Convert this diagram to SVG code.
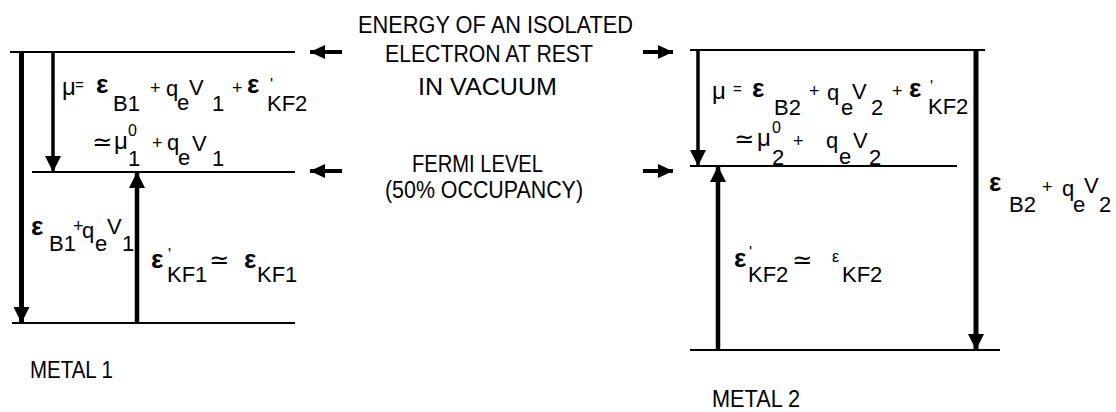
<svg xmlns="http://www.w3.org/2000/svg" width="1116" height="412" viewBox="0 0 1116 412">
<style>
.t{font-family:"Liberation Sans","DejaVu Sans",sans-serif;font-size:22px;fill:#000}
.lab{font-family:"Liberation Sans","DejaVu Sans",sans-serif;font-size:23px;fill:#000}
.e{font-weight:bold;font-size:26px}
.es{font-size:16px}
.m{font-size:24px}
.p{font-size:18px}
.sp{font-size:16px}
.eq{font-size:15px}
.pr{font-size:16px}
.lvl{stroke:#000;stroke-width:2;fill:none}
.ar{stroke:#000;fill:none}
</style>
<defs>
<marker id="ah" markerUnits="userSpaceOnUse" markerWidth="16" markerHeight="16" refX="16" refY="8" orient="auto"><path d="M0,0 L16,8 L0,16 z" fill="#000"/></marker>
<marker id="ahs" markerUnits="userSpaceOnUse" markerWidth="15" markerHeight="14" refX="15" refY="7" orient="auto"><path d="M0,0 L15,7 L0,14 z" fill="#000"/></marker>
</defs>
<rect width="1116" height="412" fill="#fff"/>

<g id="metal1-vacuum-level"><line class="lvl" x1="10" y1="52" x2="295" y2="52"/></g>
<g id="metal1-fermi-level"><line class="lvl" x1="32" y1="172" x2="295" y2="172"/></g>
<g id="metal1-bottom-level"><line class="lvl" x1="12" y1="323" x2="295" y2="323"/></g>
<g id="metal2-vacuum-level"><line class="lvl" x1="690" y1="50" x2="985" y2="50"/></g>
<g id="metal2-fermi-level"><line class="lvl" x1="690" y1="166" x2="957" y2="166"/></g>
<g id="metal2-bottom-level"><line class="lvl" x1="690" y1="350" x2="1000" y2="350"/></g>

<g id="connectors">
<line class="ar" x1="21.5" y1="52" x2="21.5" y2="323" stroke-width="5" marker-end="url(#ah)"/>
<line class="ar" x1="53" y1="52" x2="53" y2="172" stroke-width="3.5" marker-end="url(#ah)"/>
<line class="ar" x1="137" y1="323" x2="137" y2="172" stroke-width="4.5" marker-end="url(#ah)"/>
<line class="ar" x1="698" y1="50" x2="698" y2="166" stroke-width="3.5" marker-end="url(#ah)"/>
<line class="ar" x1="718" y1="350" x2="718" y2="166" stroke-width="4.5" marker-end="url(#ah)"/>
<line class="ar" x1="976" y1="50" x2="976" y2="350" stroke-width="5" marker-end="url(#ah)"/>
<line class="ar" x1="342" y1="52" x2="310" y2="52" stroke-width="4" marker-end="url(#ahs)"/>
<line class="ar" x1="643" y1="52" x2="673" y2="52" stroke-width="4" marker-end="url(#ahs)"/>
<line class="ar" x1="342" y1="171" x2="310" y2="171" stroke-width="4" marker-end="url(#ahs)"/>
<line class="ar" x1="643" y1="171" x2="673" y2="171" stroke-width="4" marker-end="url(#ahs)"/>
</g>

<g id="vacuum-label">
<text class="lab" x="358" y="33" textLength="275" lengthAdjust="spacingAndGlyphs">ENERGY OF AN ISOLATED</text>
<text class="lab" x="385" y="62" textLength="208" lengthAdjust="spacingAndGlyphs">ELECTRON AT REST</text>
<text class="lab" x="418" y="95" textLength="139" lengthAdjust="spacingAndGlyphs">IN VACUUM</text>
</g>
<g id="fermi-label">
<text class="lab" x="412" y="172" textLength="131" lengthAdjust="spacingAndGlyphs">FERMI LEVEL</text>
<text class="lab" x="385" y="198" textLength="198" lengthAdjust="spacingAndGlyphs">(50% OCCUPANCY)</text>
</g>

<g id="metal1-mu">
<text class="t"><tspan class="m" x="62" y="95">μ</tspan><tspan class="eq" x="75" y="90">=</tspan><tspan class="e" x="96" y="93">ε</tspan><tspan x="113" y="111">B1</tspan><tspan class="p" x="150" y="94">+</tspan><tspan x="166" y="96">q</tspan><tspan x="177" y="110">e</tspan><tspan x="189" y="95">V</tspan><tspan x="212" y="111">1</tspan><tspan class="p" x="232" y="94">+</tspan><tspan class="e" x="247" y="93">ε</tspan><tspan class="pr" x="270" y="90">'</tspan><tspan x="267" y="111">KF2</tspan></text>
<text class="t"><tspan class="m" x="92" y="150">≃</tspan><tspan class="m" x="114" y="149">μ</tspan><tspan class="sp" x="128" y="136">0</tspan><tspan x="128" y="166">1</tspan><tspan class="p" x="152" y="149">+</tspan><tspan x="167" y="150">q</tspan><tspan x="178" y="165">e</tspan><tspan x="192" y="151">V</tspan><tspan x="212" y="166">1</tspan></text>
</g>
<g id="metal1-eb">
<text class="t"><tspan class="e" x="31" y="235">ε</tspan><tspan x="49" y="251">B1</tspan><tspan class="p" x="73" y="232">+</tspan><tspan x="82" y="238">q</tspan><tspan x="95" y="251">e</tspan><tspan x="107" y="234">V</tspan><tspan x="122" y="251">1</tspan></text>
</g>
<g id="metal1-ekf">
<text class="t"><tspan class="e" x="151" y="268">ε</tspan><tspan class="pr" x="168" y="260">'</tspan><tspan x="167" y="282">KF1</tspan><tspan class="m" x="209" y="268">≃</tspan><tspan class="e" x="244" y="268">ε</tspan><tspan x="257" y="282">KF1</tspan></text>
</g>
<g id="metal1-label"><text class="lab" x="30" y="378" textLength="83" lengthAdjust="spacingAndGlyphs">METAL 1</text></g>

<g id="metal2-mu">
<text class="t"><tspan class="m" x="712" y="99">μ</tspan><tspan class="eq" x="733" y="94">=</tspan><tspan class="e" x="752" y="97">ε</tspan><tspan x="774" y="115">B2</tspan><tspan class="p" x="809" y="97">+</tspan><tspan x="827" y="100">q</tspan><tspan x="841" y="115">e</tspan><tspan x="852" y="99">V</tspan><tspan x="871" y="115">2</tspan><tspan class="p" x="892" y="97">+</tspan><tspan class="e" x="909" y="97">ε</tspan><tspan class="pr" x="930" y="92">'</tspan><tspan x="928" y="114">KF2</tspan></text>
<text class="t"><tspan class="m" x="734" y="147">≃</tspan><tspan class="m" x="757" y="146">μ</tspan><tspan class="sp" x="772" y="133">0</tspan><tspan x="772" y="165">2</tspan><tspan class="p" x="793" y="147">+</tspan><tspan x="826" y="148">q</tspan><tspan x="839" y="164">e</tspan><tspan x="853" y="148">V</tspan><tspan x="869" y="165">2</tspan></text>
</g>
<g id="metal2-eb">
<text class="t"><tspan class="e" x="989" y="191">ε</tspan><tspan x="1009" y="212">B2</tspan><tspan class="p" x="1042" y="193">+</tspan><tspan x="1062" y="196">q</tspan><tspan x="1073" y="212">e</tspan><tspan x="1084" y="193">V</tspan><tspan x="1099" y="212">2</tspan></text>
</g>
<g id="metal2-ekf">
<text class="t"><tspan class="e" x="734" y="267">ε</tspan><tspan class="pr" x="749" y="258">'</tspan><tspan x="748" y="282">KF2</tspan><tspan class="m" x="792" y="268">≃</tspan><tspan class="es" x="832" y="262">ε</tspan><tspan x="842" y="282">KF2</tspan></text>
</g>
<g id="metal2-label"><text class="lab" x="712" y="407" textLength="88" lengthAdjust="spacingAndGlyphs">METAL 2</text></g>
</svg>
